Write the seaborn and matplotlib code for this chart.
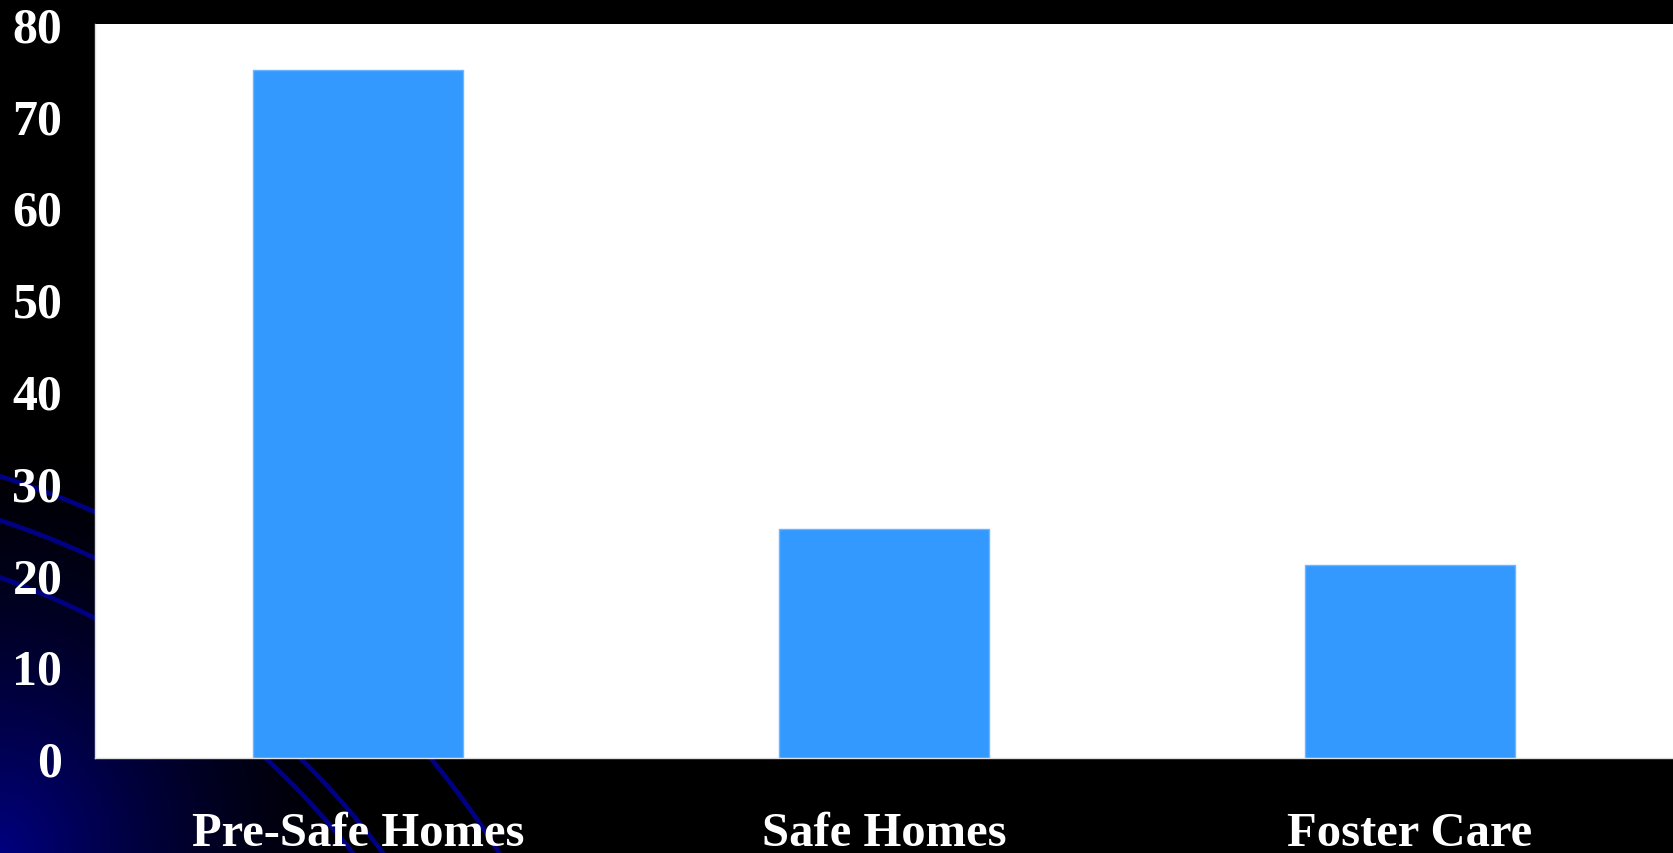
import numpy as np
import pandas as pd
import matplotlib
matplotlib.use("Agg")
import matplotlib.pyplot as plt
import seaborn as sns

# Chart data
categories = ["Pre-Safe Homes", "Safe Homes", "Foster Care"]
values = [75, 25, 21]
y_ticks = [0, 10, 20, 30, 40, 50, 60, 70, 80]

df = pd.DataFrame({"group": categories, "value": values})

sns.set_theme(style="white")
plt.rcParams["font.family"] = ["Liberation Serif", "DejaVu Serif"]
plt.rcParams["font.weight"] = "bold"

W, H = 1673, 854
fig = plt.figure(figsize=(W / 100, H / 100), dpi=100)
fig.patch.set_facecolor("black")

# Slide-style backdrop: navy glow in the lower-left corner plus thin arcs
bg = fig.add_axes([0, 0, 1, 1], zorder=-5)
bg.set_xlim(0, W)
bg.set_ylim(H, 0)
bg.axis("off")
yy, xx = np.mgrid[0:H, 0:W]
dist = np.hypot(xx / 1.0, (H - yy) / 1.15)
glow = np.clip(1 - dist / 370.0, 0, 1) ** 1.5
img = np.zeros((H, W, 3))
img[..., 2] = 0.50 * glow
bg.imshow(img, extent=(0, W, H, 0), aspect="auto", zorder=0)

cx, cy = -270.0, 1340.0
arc_color = "#000085"
# arcs crossing the left margin
for r in (904, 862, 808):
    t0 = np.arccos(min((170 - cx) / r, 1.0))
    t1 = np.arccos(max((-20 - cx) / r, -1.0))
    t = np.linspace(t0, t1, 200)
    bg.plot(cx + r * np.cos(t), cy - r * np.sin(t), color=arc_color, lw=3.3,
            solid_capstyle="butt", zorder=1)
# arcs crossing the band under the plot
for r in (790, 814, 910):
    t0 = np.arcsin((cy - 880) / r)
    t1 = np.arcsin((cy - 730) / r)
    t = np.linspace(t0, t1, 200)
    bg.plot(cx + r * np.cos(t), cy - r * np.sin(t), color=arc_color, lw=3.3,
            solid_capstyle="butt", zorder=1)

# Main plot
ax = fig.add_axes([95 / W, (H - 759) / H, (W - 95) / W, (759 - 25) / H])
ax.set_facecolor("white")
sns.barplot(data=df, x="group", y="value", color="#3399FF", width=0.4,
            edgecolor="#6CB6FF", linewidth=1.0, saturation=1, ax=ax)

ax.set_xlim(-0.5, len(categories) - 0.5)
ax.set_ylim(y_ticks[0], y_ticks[-1])
ax.set_yticks(y_ticks)
ax.set_yticklabels([str(v) for v in y_ticks])
ax.set_xlabel("")
ax.set_ylabel("")

# category boundary ticks (major) and centred category labels (minor)
ax.set_xticks(np.arange(len(categories)) - 0.5)
ax.set_xticklabels([])
ax.set_xticks(np.arange(len(categories)), minor=True)
ax.set_xticklabels(categories, minor=True)

ax.tick_params(axis="y", which="major", direction="out", length=9.5, width=1.2,
               color="white", labelcolor="white", labelsize=36, pad=14)
ax.tick_params(axis="x", which="major", direction="out", length=9.5, width=1.2,
               color="white")
ax.tick_params(axis="x", which="minor", length=0, labelcolor="white",
               labelsize=35, pad=38)
for lab in ax.get_yticklabels() + ax.get_xticklabels(minor=True):
    lab.set_fontweight("bold")

for side in ("top", "right"):
    ax.spines[side].set_visible(False)
for side in ("left", "bottom"):
    ax.spines[side].set_color("#DDDDDD")
    ax.spines[side].set_linewidth(1.0)

fig.savefig("out.png", dpi=100, facecolor=fig.get_facecolor())
